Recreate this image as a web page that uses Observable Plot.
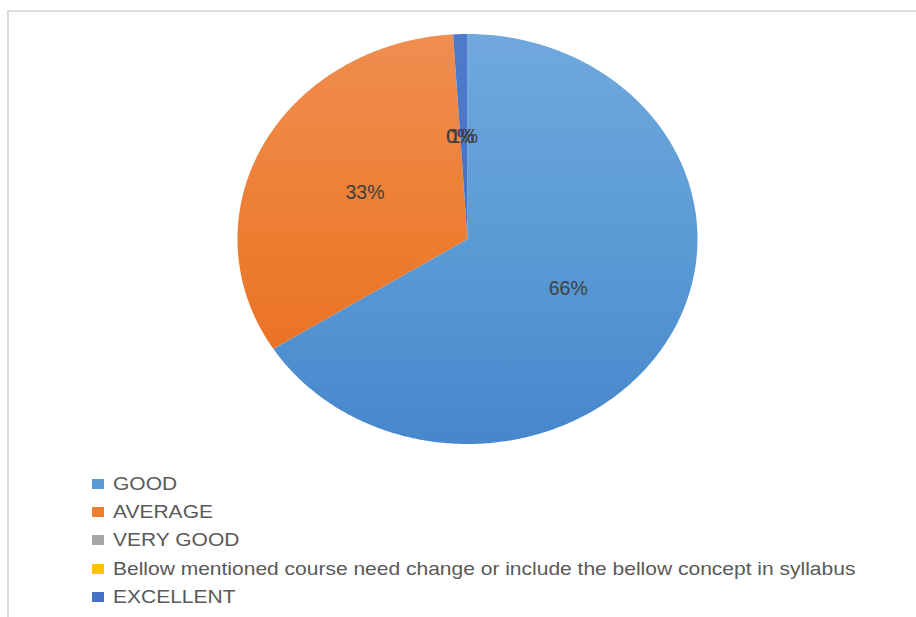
<!DOCTYPE html>
<html>
<head>
<meta charset="utf-8">
<script src="https://cdn.jsdelivr.net/npm/d3@7"></script>
<script src="https://cdn.jsdelivr.net/npm/@observablehq/plot@0.6"></script>
<style>
  html, body { margin: 0; padding: 0; background: #ffffff; }
  body { width: 916px; height: 617px; position: relative; overflow: hidden;
         font-family: "Liberation Sans", Arial, Helvetica, sans-serif; }
  #frame { position: absolute; left: 7px; top: 10px; right: -10px; bottom: -10px;
           border-left: 2px solid #dcdcdc; border-top: 2px solid #dcdcdc; }
  #chart { position: absolute; left: 0; top: 0; }
  #legend { position: absolute; left: 92px; top: 470px; }
  .row { height: 28.2px; display: flex; align-items: center; }
  .sw { width: 11.5px; height: 10px; margin-right: 9.5px; flex: none; }
  .lab { font-size: 18.5px; color: #595959; transform: scaleX(1.135);
         transform-origin: left center; white-space: nowrap; }
</style>
</head>
<body>
<div id="frame"></div>
<div id="chart"></div>
<div id="legend"></div>
<script>
// ---- Data ----
const categories = [
  "GOOD",
  "AVERAGE",
  "VERY GOOD",
  "Bellow mentioned course need change or include the bellow concept in syllabus",
  "EXCELLENT"
];
const values = [66, 33, 0, 0, 1];
const valueLabels = ["66%", "33%", "0%", "0%", "1%"];

// ---- Styles ----
const baseColors   = ["#5b9bd5", "#ed7d31", "#a5a5a5", "#ffc000", "#4472c4"];
const topColors    = ["#70a8de", "#f08d50", "#b3b3b3", "#ffc933", "#4e7bcc"];
const bottomColors = ["#4687cd", "#e7691b", "#959595", "#f0b400", "#3f6bbd"];

const rows = categories.map((name, i) => ({name, value: values[i], label: valueLabels[i], index: i}));

// pie layout (clockwise from 12 o'clock, no sorting)
const arcs = d3.pie().sort(null).value(d => d.value)(rows);

function slicePoints(a) {
  const n = Math.max(2, Math.ceil((a.endAngle - a.startAngle) / (Math.PI / 360)));
  const pts = [{x: 0, y: 0}];
  for (let i = 0; i <= n; i++) {
    const t = a.startAngle + (a.endAngle - a.startAngle) * i / n;
    pts.push({x: Math.sin(t), y: Math.cos(t)});
  }
  pts.push({x: 0, y: 0});
  return pts;
}

const labelRadius = 0.5;
const labelData = arcs.map(a => {
  const m = (a.startAngle + a.endAngle) / 2;
  return {x: labelRadius * Math.sin(m), y: labelRadius * Math.cos(m), text: a.data.label};
});

const W = 916, H = 470;
const plot = Plot.plot({
  width: W,
  height: H,
  marginLeft: 237,
  marginRight: 219,
  marginTop: 33.5,
  marginBottom: 26.5,
  x: {axis: null, domain: [-1, 1]},
  y: {axis: null, domain: [-1, 1]},
  style: {fontFamily: "'Liberation Sans', Arial, Helvetica, sans-serif", background: "transparent"},
  marks: [
    ...arcs.filter(a => a.value > 0).map(a =>
      Plot.line(slicePoints(a), {
        x: "x", y: "y",
        fill: `url(#grad${a.data.index})`,
        stroke: "none",
        curve: "linear"
      })
    ),
    Plot.text(labelData, {
      x: "x", y: "y", text: "text",
      fontSize: 19.5,
      fill: "#404040",
      textAnchor: "middle"
    })
  ]
});
document.getElementById("chart").appendChild(plot);

// gradients spanning the whole pie (vertical, lighter at the top)
const yScale = plot.scale("y");
const yTop = Math.min(...yScale.range), yBot = Math.max(...yScale.range);
const defsSvg = d3.select("body").append("svg")
  .attr("width", 0).attr("height", 0)
  .style("position", "absolute").style("left", 0).style("top", 0);
const defs = defsSvg.append("defs");
baseColors.forEach((c, i) => {
  const g = defs.append("linearGradient")
    .attr("id", `grad${i}`)
    .attr("gradientUnits", "userSpaceOnUse")
    .attr("x1", 0).attr("x2", 0)
    .attr("y1", yTop).attr("y2", yBot);
  g.append("stop").attr("offset", "0%").attr("stop-color", topColors[i]);
  g.append("stop").attr("offset", "50%").attr("stop-color", c);
  g.append("stop").attr("offset", "100%").attr("stop-color", bottomColors[i]);
});

// legend
const legend = d3.select("#legend");
categories.forEach((name, i) => {
  const r = legend.append("div").attr("class", "row");
  r.append("div").attr("class", "sw").style("background", baseColors[i]);
  r.append("div").attr("class", "lab").text(name);
});
</script>
</body>
</html>
